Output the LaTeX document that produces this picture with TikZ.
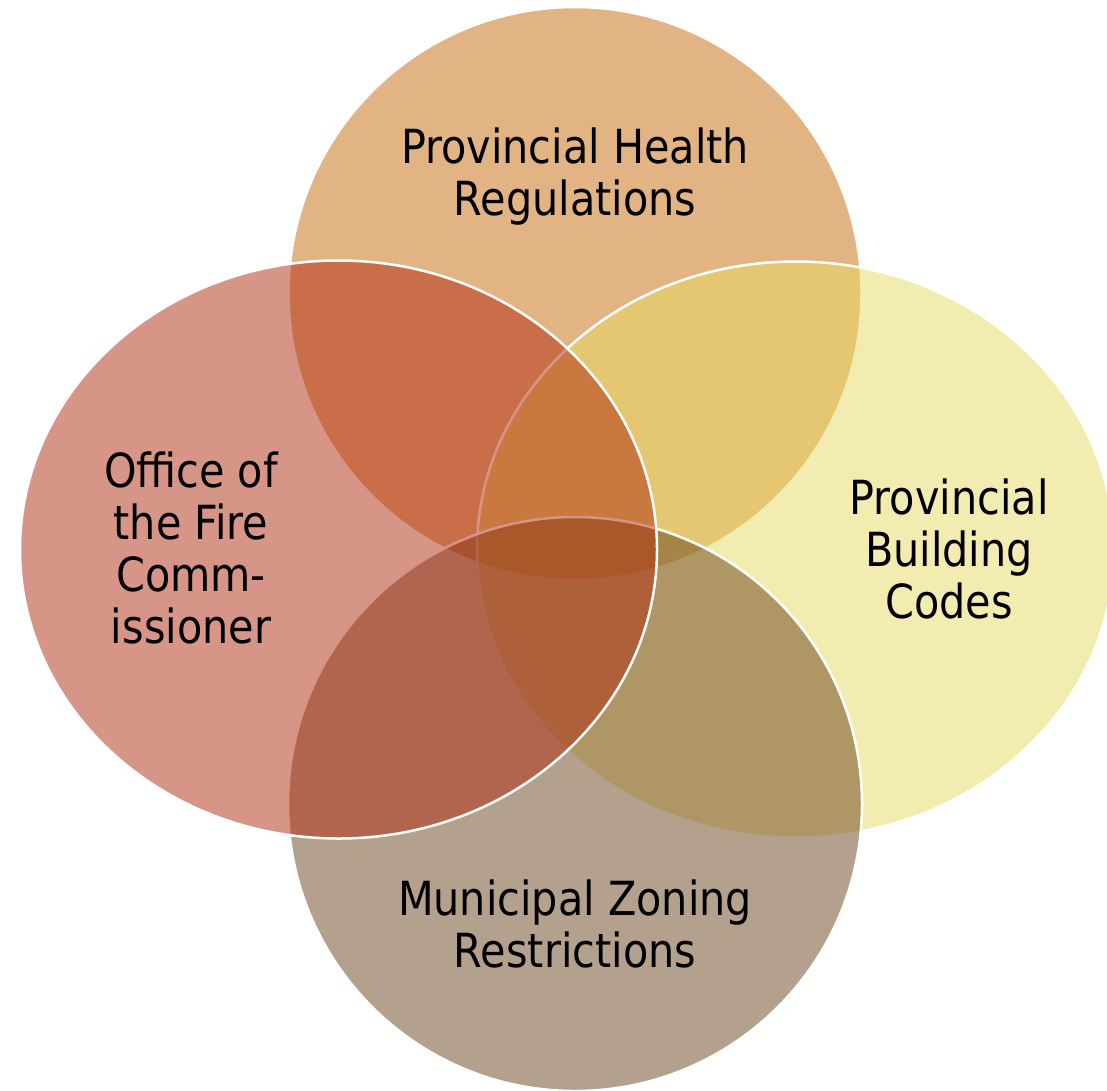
\documentclass[tikz,border=0pt]{standalone}
\usepackage{fontspec}
\setmainfont{DejaVu Sans}[FakeStretch=0.88]
\definecolor{cTop}{RGB}{199,105,7}
\definecolor{cRight}{RGB}{231,217,97}
\definecolor{cBottom}{RGB}{105,67,27}
\definecolor{cLeft}{RGB}{175,43,17}
\begin{document}
\begin{tikzpicture}[x=1pt,y=-1pt,
  setarea/.style={draw=white, line width=2.5pt, fill opacity=0.5},
  setlabel/.style={align=center, inner sep=0pt, text=black,
    font=\fontsize{47}{52}\selectfont}]
\useasboundingbox (0,0) rectangle (1107,1090);
\begin{scope}
\clip (0,0) rectangle (1107,1090);
% the four overlapping sets, drawn top, right, bottom, left
\path[setarea, fill=cTop]    (575,293.5)   ellipse [x radius=286.5pt, y radius=286.5pt];
\path[setarea, fill=cRight]  (795.5,549.5) ellipse [x radius=318.5pt, y radius=288pt];
\path[setarea, fill=cBottom] (575,804)     ellipse [x radius=287pt, y radius=287pt];
\path[setarea, fill=cLeft]   (338.5,549.5) ellipse [x radius=318.5pt, y radius=289pt];
\end{scope}
% labels
\node[setlabel] (health) at (575,177) {Provincial Health\\Regulations};
\node[setlabel] (building) at (949,549) {Provincial\\Building\\Codes};
\node[setlabel] (zoning) at (575,924) {Municipal Zoning\\Restrictions};
\node[setlabel] (fire) at (191,548) {Office of\\the Fire\\Comm-\\issioner};
\end{tikzpicture}
\end{document}
